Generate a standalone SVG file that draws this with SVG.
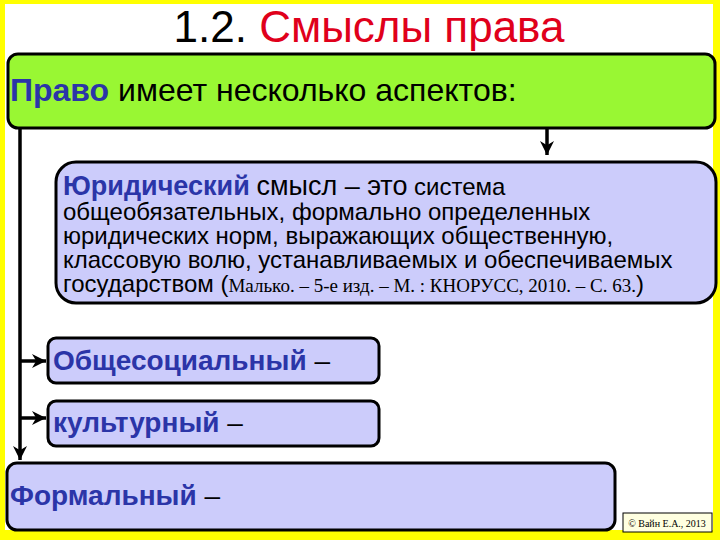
<svg xmlns="http://www.w3.org/2000/svg" width="720" height="540" viewBox="0 0 720 540">
<style>
.box{stroke:#000;stroke-width:3}
.g{fill:#99f733}
.p{fill:#ccccfb}
.sans{font-family:"Liberation Sans",Arial,sans-serif}
.serif{font-family:"Liberation Serif","Times New Roman",serif}
.blue{fill:#2b35a8;font-weight:bold}
.conn{stroke:#000;stroke-width:3.5;fill:none}
</style>
<defs>
<marker id="ah" viewBox="0 0 10 10" refX="10" refY="5" markerWidth="4" markerHeight="4" orient="auto" markerUnits="strokeWidth">
<path d="M0,0 L10,5 L0,10 L3,5 z" fill="#000"/>
</marker>
</defs>
<rect x="0" y="0" width="720" height="540" fill="#ffff00"/>
<rect x="5" y="4" width="708" height="526" fill="#ffffff"/>
<g id="title">
<text x="369" y="42" text-anchor="middle" class="sans" font-size="44"><tspan fill="#000">1.2. </tspan><tspan fill="#e0001b">Смыслы права</tspan></text>
</g>
<g id="connectors">
<path class="conn" d="M547,128 V155" marker-end="url(#ah)"/>
<path class="conn" d="M20,128 V460" marker-end="url(#ah)"/>
<path class="conn" d="M20,361 H46" marker-end="url(#ah)"/>
<path class="conn" d="M20,418 H46" marker-end="url(#ah)"/>
</g>
<g id="pravo">
<rect class="box g" x="8" y="54" width="707" height="74" rx="10"/>
<text x="10" y="101" class="sans" font-size="32"><tspan class="blue">Право</tspan> имеет несколько аспектов:</text>
</g>
<g id="jurid">
<rect class="box p" x="56" y="162" width="660" height="141" rx="20"/>
<text class="sans" font-size="24" fill="#000">
<tspan x="63" y="195"><tspan class="blue" font-size="27">Юридический</tspan> <tspan font-size="27">смысл – это</tspan> система</tspan>
<tspan x="63" y="220">общеобязательных, формально определенных</tspan>
<tspan x="63" y="244">юридических норм, выражающих общественную,</tspan>
<tspan x="63" y="268">классовую волю, устанавливаемых и обеспечиваемых</tspan>
<tspan x="63" y="292">государством (<tspan class="serif" font-size="19">Малько. – 5-е изд. – М. : КНОРУСС, 2010. – С. 63.</tspan>)</tspan>
</text>
</g>
<g id="obsh">
<rect class="box p" x="48" y="338" width="331" height="45" rx="8"/>
<text x="53" y="370" class="sans" font-size="28"><tspan class="blue">Общесоциальный</tspan> –</text>
</g>
<g id="kult">
<rect class="box p" x="48" y="401" width="331" height="45" rx="8"/>
<text x="53" y="432" class="sans" font-size="28"><tspan class="blue">культурный</tspan> –</text>
</g>
<g id="formal">
<rect class="box p" x="7" y="463" width="608" height="67" rx="10"/>
<text x="10" y="505" class="sans" font-size="28"><tspan class="blue">Формальный</tspan> –</text>
</g>
<g id="copy">
<rect x="623" y="513" width="89" height="19" fill="#ffffe0" stroke="#000" stroke-width="1"/>
<text x="667" y="527" text-anchor="middle" class="serif" font-size="10">© Вайн Е.А., 2013</text>
</g>
</svg>
